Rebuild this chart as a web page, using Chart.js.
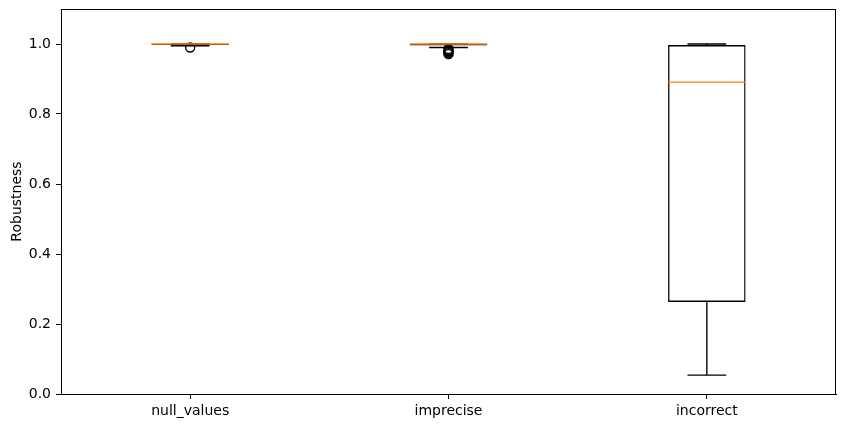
<!DOCTYPE html>
<html><head><meta charset="utf-8">
<script src="https://cdn.jsdelivr.net/npm/chart.js@4/dist/chart.umd.min.js"></script>
<style>html,body{margin:0;padding:0;background:#fff}#wrap{width:846px;height:428px}</style>
</head><body><div id="wrap"><canvas id="c" width="846" height="428"></canvas></div>
<script>
// ---- data ----
const categories = ['null_values', 'imprecise', 'incorrect'];
const positions = [1, 2, 3];
const whiskerLow = [0.995, 0.990, 0.054];
const q1 = [0.997, 0.996, 0.263];
const median = [1.0, 1.0, 0.891];
const q3 = [1.0, 1.0, 0.997];
const whiskerHigh = [1.0, 1.0, 1.0];
const outliers = [[0.990], [0.986, 0.983, 0.980, 0.977, 0.974, 0.971], []];
const yTicks = [0.0, 0.2, 0.4, 0.6, 0.8, 1.0];
const yTitle = 'Robustness';

const BOX_WIDTH = 0.3;
const CAP_WIDTH = 0.15;
const LW = 1.35;

const gap = p => ({x: p, y: null});
const medianPts = [], whiskerPts = [], capPts = [], outlierPts = [];
positions.forEach((p, i) => {
  medianPts.push({x: p - BOX_WIDTH / 2, y: median[i]}, {x: p + BOX_WIDTH / 2, y: median[i]}, gap(p));
  whiskerPts.push({x: p, y: q1[i]}, {x: p, y: whiskerLow[i]}, gap(p), {x: p, y: q3[i]}, {x: p, y: whiskerHigh[i]}, gap(p));
  capPts.push({x: p - CAP_WIDTH / 2, y: whiskerLow[i]}, {x: p + CAP_WIDTH / 2, y: whiskerLow[i]}, gap(p),
              {x: p - CAP_WIDTH / 2, y: whiskerHigh[i]}, {x: p + CAP_WIDTH / 2, y: whiskerHigh[i]}, gap(p));
  outliers[i].forEach(v => outlierPts.push({x: p, y: v}));
});
const boxPts = positions.map((p, i) => ({x: p, y: [q1[i], q3[i]]}));

Chart.defaults.color = '#000';
Chart.defaults.font.family = 'DejaVu Sans';
Chart.defaults.font.size = 14;

const frame = {
  id: 'frame',
  afterDraw(chart) {
    const {ctx, chartArea: a} = chart;
    ctx.save();
    ctx.strokeStyle = '#000';
    ctx.lineWidth = 1;
    ctx.strokeRect(Math.round(a.left) + 0.5, Math.round(a.top) + 0.5, Math.round(a.right - a.left) - 1, Math.round(a.bottom - a.top));
    ctx.restore();
  }
};

const lineDs = (data, color, order) => ({
  type: 'line', data, borderColor: color, borderWidth: LW, pointRadius: 0, pointHoverRadius: 0,
  fill: false, tension: 0, spanGaps: false, borderCapStyle: 'butt', order
});

new Chart(document.getElementById('c'), {
  type: 'bar',
  data: {
    datasets: [
      lineDs(medianPts, '#ff7f0e', 0),
      {type: 'scatter', data: outlierPts, pointStyle: 'circle', pointRadius: 4.5, pointHoverRadius: 4.5,
       backgroundColor: 'rgba(0,0,0,0)', borderColor: '#000', borderWidth: LW, order: 1},
      lineDs(whiskerPts, '#000', 2),
      lineDs(capPts, '#000', 2),
      {type: 'bar', data: boxPts, backgroundColor: 'rgba(0,0,0,0)', borderColor: '#000', borderWidth: LW,
       borderSkipped: false, categoryPercentage: 1, barPercentage: BOX_WIDTH, order: 3}
    ]
  },
  options: {
    responsive: false, animation: false, devicePixelRatio: 1,
    layout: {padding: {left: 0, top: 9, right: 10, bottom: 0}},
    plugins: {legend: {display: false}, tooltip: {enabled: false}},
    events: [],
    scales: {
      x: {
        type: 'linear', min: 0.5, max: 3.5, offset: false,
        afterBuildTicks: a => { a.ticks = positions.map(v => ({value: v})); },
        afterFit: a => { a.height = 34; a.paddingLeft = 0; a.paddingRight = 0; },
        ticks: {callback: (v, i) => categories[i], padding: 4, autoSkip: false, maxRotation: 0, color: '#000'},
        grid: {drawOnChartArea: false, offset: false, tickLength: 5, color: '#000', tickWidth: 1},
        border: {color: '#000', width: 1}
      },
      y: {
        type: 'linear', min: 0, max: 1.1,
        afterBuildTicks: a => { a.ticks = yTicks.map(v => ({value: v})); },
        afterFit: a => { a.width = 61; a.paddingTop = 0; a.paddingBottom = 0; },
        ticks: {callback: v => Number(v).toFixed(1), padding: 5, color: '#000'},
        grid: {drawOnChartArea: false, tickLength: 5, color: '#000', tickWidth: 1},
        border: {color: '#000', width: 1},
        title: {display: true, text: yTitle, color: '#000', padding: {top: 9, bottom: 0}}
      }
    }
  },
  plugins: [frame]
});
</script></body></html>
